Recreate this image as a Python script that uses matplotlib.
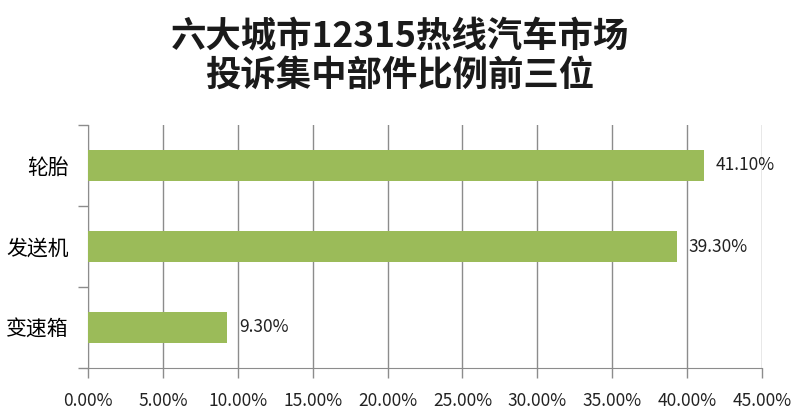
import matplotlib
matplotlib.use("Agg")
import matplotlib.pyplot as plt
from matplotlib.ticker import MultipleLocator, FixedLocator, PercentFormatter

plt.rcParams['font.family'] = ['Noto Sans CJK SC', 'DejaVu Sans']

# 数据
categories = ["变速箱", "发送机", "轮胎"]
values = [9.30, 39.30, 41.10]
value_labels = ["9.30%", "39.30%", "41.10%"]
title = "六大城市12315热线汽车市场\n投诉集中部件比例前三位"

bar_color = "#9BBB59"
grid_color = "#8C8C8C"

fig = plt.figure(figsize=(8, 4.2), dpi=100)
ax = fig.add_axes([88 / 800, 1 - 368 / 420, (762 - 88) / 800, (368 - 125) / 420])

y = range(len(categories))
ax.barh(y, values, height=0.38, color=bar_color, zorder=3)
for i, v in enumerate(values):
    ax.text(v + 0.8, i, value_labels[i], va="center", ha="left", fontsize=12.5,
            color="#222222", zorder=4)

ax.set_xlim(0, 45)
ax.set_ylim(-0.5, len(categories) - 0.5)
ax.xaxis.set_major_locator(MultipleLocator(5))
ax.xaxis.set_major_formatter(PercentFormatter(decimals=2))
ax.grid(axis="x", color=grid_color, linewidth=1, zorder=0)

ax.set_yticks(list(y))
ax.set_yticklabels(categories, fontsize=15)
ax.yaxis.set_minor_locator(FixedLocator([-0.5, 0.5, 1.5, 2.5]))
ax.tick_params(axis="y", which="major", length=0, pad=14)
ax.tick_params(axis="y", which="minor", length=7, color=grid_color, width=1)
ax.tick_params(axis="x", length=7, color=grid_color, width=1, labelsize=12.5,
               pad=10, labelcolor="#222222")

for s in ["top", "right"]:
    ax.spines[s].set_visible(False)
ax.spines["left"].set_color(grid_color)
ax.spines["bottom"].set_color(grid_color)

# 标题
fig.text(0.5, 1 - 56 / 420, title, ha="center", va="center", fontsize=25.5,
         fontweight="bold", linespacing=1.15, color="#1a1a1a")

fig.savefig("out.png", dpi=100)
